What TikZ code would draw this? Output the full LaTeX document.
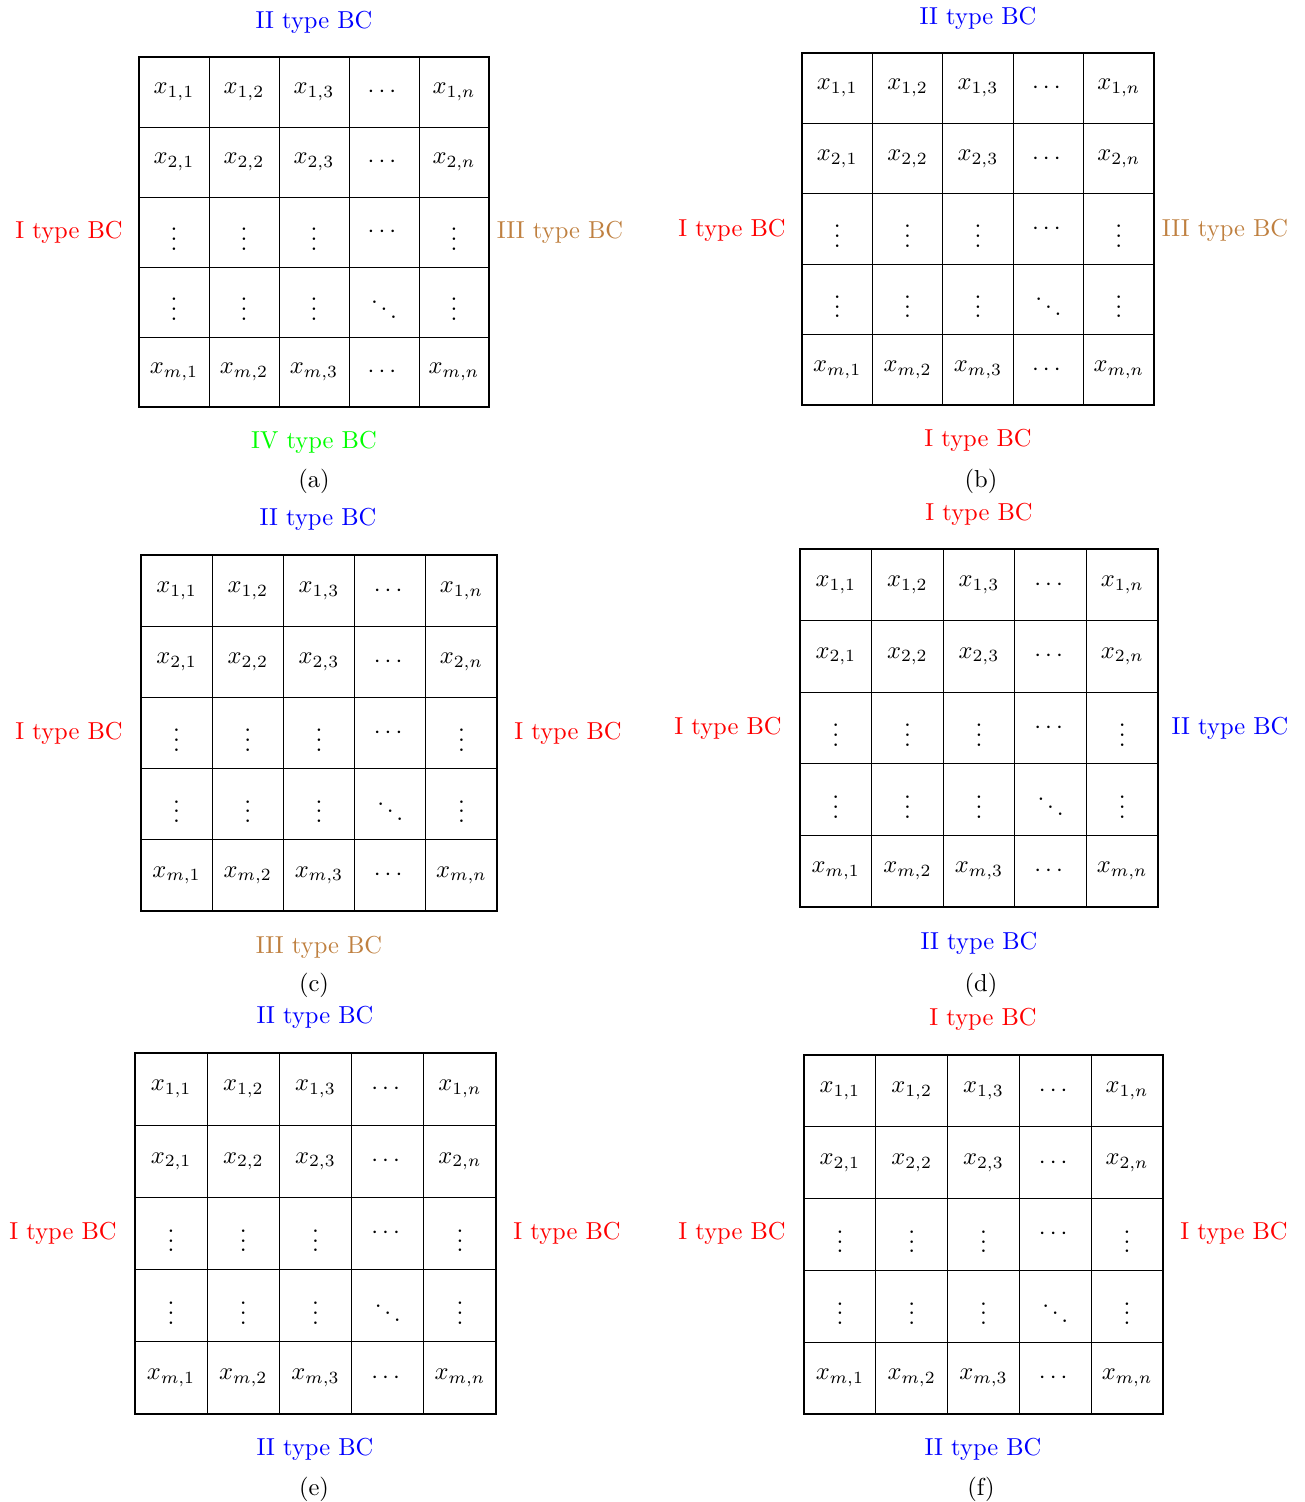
\documentclass[tikz,border=0pt]{standalone}
\usepackage{amsmath}

\tikzset{
  cellline/.style={line width=0.4pt},
  frameline/.style={line width=1pt},
  cell/.style={inner sep=0pt},
  bcone/.style={text=red},
  bctwo/.style={text=blue},
  bcthree/.style={text=brown},
  bcfour/.style={text=green},
}

% #1 panel name, (#2,#3) top left corner, #4 cell size
\newcommand{\bcgrid}[4]{%
\pgfmathsetmacro{\cellsz}{#4*0.408}%
\begin{scope}[shift={(#2,#3)},x=\cellsz pt,y=-\cellsz pt]
  \foreach \k in {1,...,4}{
    \draw[cellline] (\k,0) -- (\k,5);
    \draw[cellline] (0,\k) -- (5,\k);
  }
  \draw[frameline] (0,0) rectangle (5,5);
  \foreach \i/\ri in {1/1,2/2,5/m}{
    \foreach \j/\cj in {1/1,2/2,3/3,5/n}
      \node[cell] (#1-\i-\j) at (\j-0.5,\i-0.5) {$x_{\ri,\cj}$};
    \node[cell] (#1-\i-4) at (3.5,\i-0.5) {$\cdots$};
  }
  \foreach \i in {3,4}
    \foreach \j in {1,2,3,5}
      \node[cell] (#1-\i-\j) at (\j-0.5,\i-0.5) {$\vdots$};
  \node[cell] (#1-3-4) at (3.5,2.5) {$\cdots$};
  \node[cell] (#1-4-4) at (3.5,3.5) {$\ddots$};
\end{scope}}

\begin{document}
\begin{tikzpicture}[x=0.408pt,y=-0.408pt]
\useasboundingbox (0,0) rectangle (1304,1502);

% (a)
\bcgrid{a}{139}{57}{70}
\node[bctwo] (a-top) at (314,22) {II type BC};
\node[bcone] (a-left) at (69,232) {I type BC};
\node[bcthree] (a-right) at (560,232) {III type BC};
\node[bcfour] (a-bottom) at (314,442) {IV type BC};
\node (a-cap) at (314,481) {(a)};

% (b)
\bcgrid{b}{802}{53}{70.4}
\node[bctwo] (b-top) at (978,18) {II type BC};
\node[bcone] (b-left) at (732,230) {I type BC};
\node[bcthree] (b-right) at (1225,230) {III type BC};
\node[bcone] (b-bottom) at (978,440) {I type BC};
\node (b-cap) at (981,481) {(b)};

% (c)
\bcgrid{c}{141}{555}{71.2}
\node[bctwo] (c-top) at (318,519) {II type BC};
\node[bcone] (c-left) at (69,733) {I type BC};
\node[bcone] (c-right) at (568,733) {I type BC};
\node[bcthree] (c-bottom) at (319,947) {III type BC};
\node (c-cap) at (314,985) {(c)};

% (d)
\bcgrid{d}{800}{549}{71.6}
\node[bcone] (d-top) at (979,514) {I type BC};
\node[bcone] (d-left) at (728,728) {I type BC};
\node[bctwo] (d-right) at (1230,728) {II type BC};
\node[bctwo] (d-bottom) at (979,943) {II type BC};
\node (d-cap) at (981,985) {(d)};

% (e)
\bcgrid{e}{135}{1053}{72.2}
\node[bctwo] (e-top) at (315,1017) {II type BC};
\node[bcone] (e-left) at (63,1233) {I type BC};
\node[bcone] (e-right) at (567,1233) {I type BC};
\node[bctwo] (e-bottom) at (315,1449) {II type BC};
\node (e-cap) at (314,1489) {(e)};

% (f)
\bcgrid{f}{804}{1055}{71.8}
\node[bcone] (f-top) at (983,1019) {I type BC};
\node[bcone] (f-left) at (732,1233) {I type BC};
\node[bcone] (f-right) at (1234,1233) {I type BC};
\node[bctwo] (f-bottom) at (983,1449) {II type BC};
\node (f-cap) at (981,1489) {(f)};
\end{tikzpicture}
\end{document}
